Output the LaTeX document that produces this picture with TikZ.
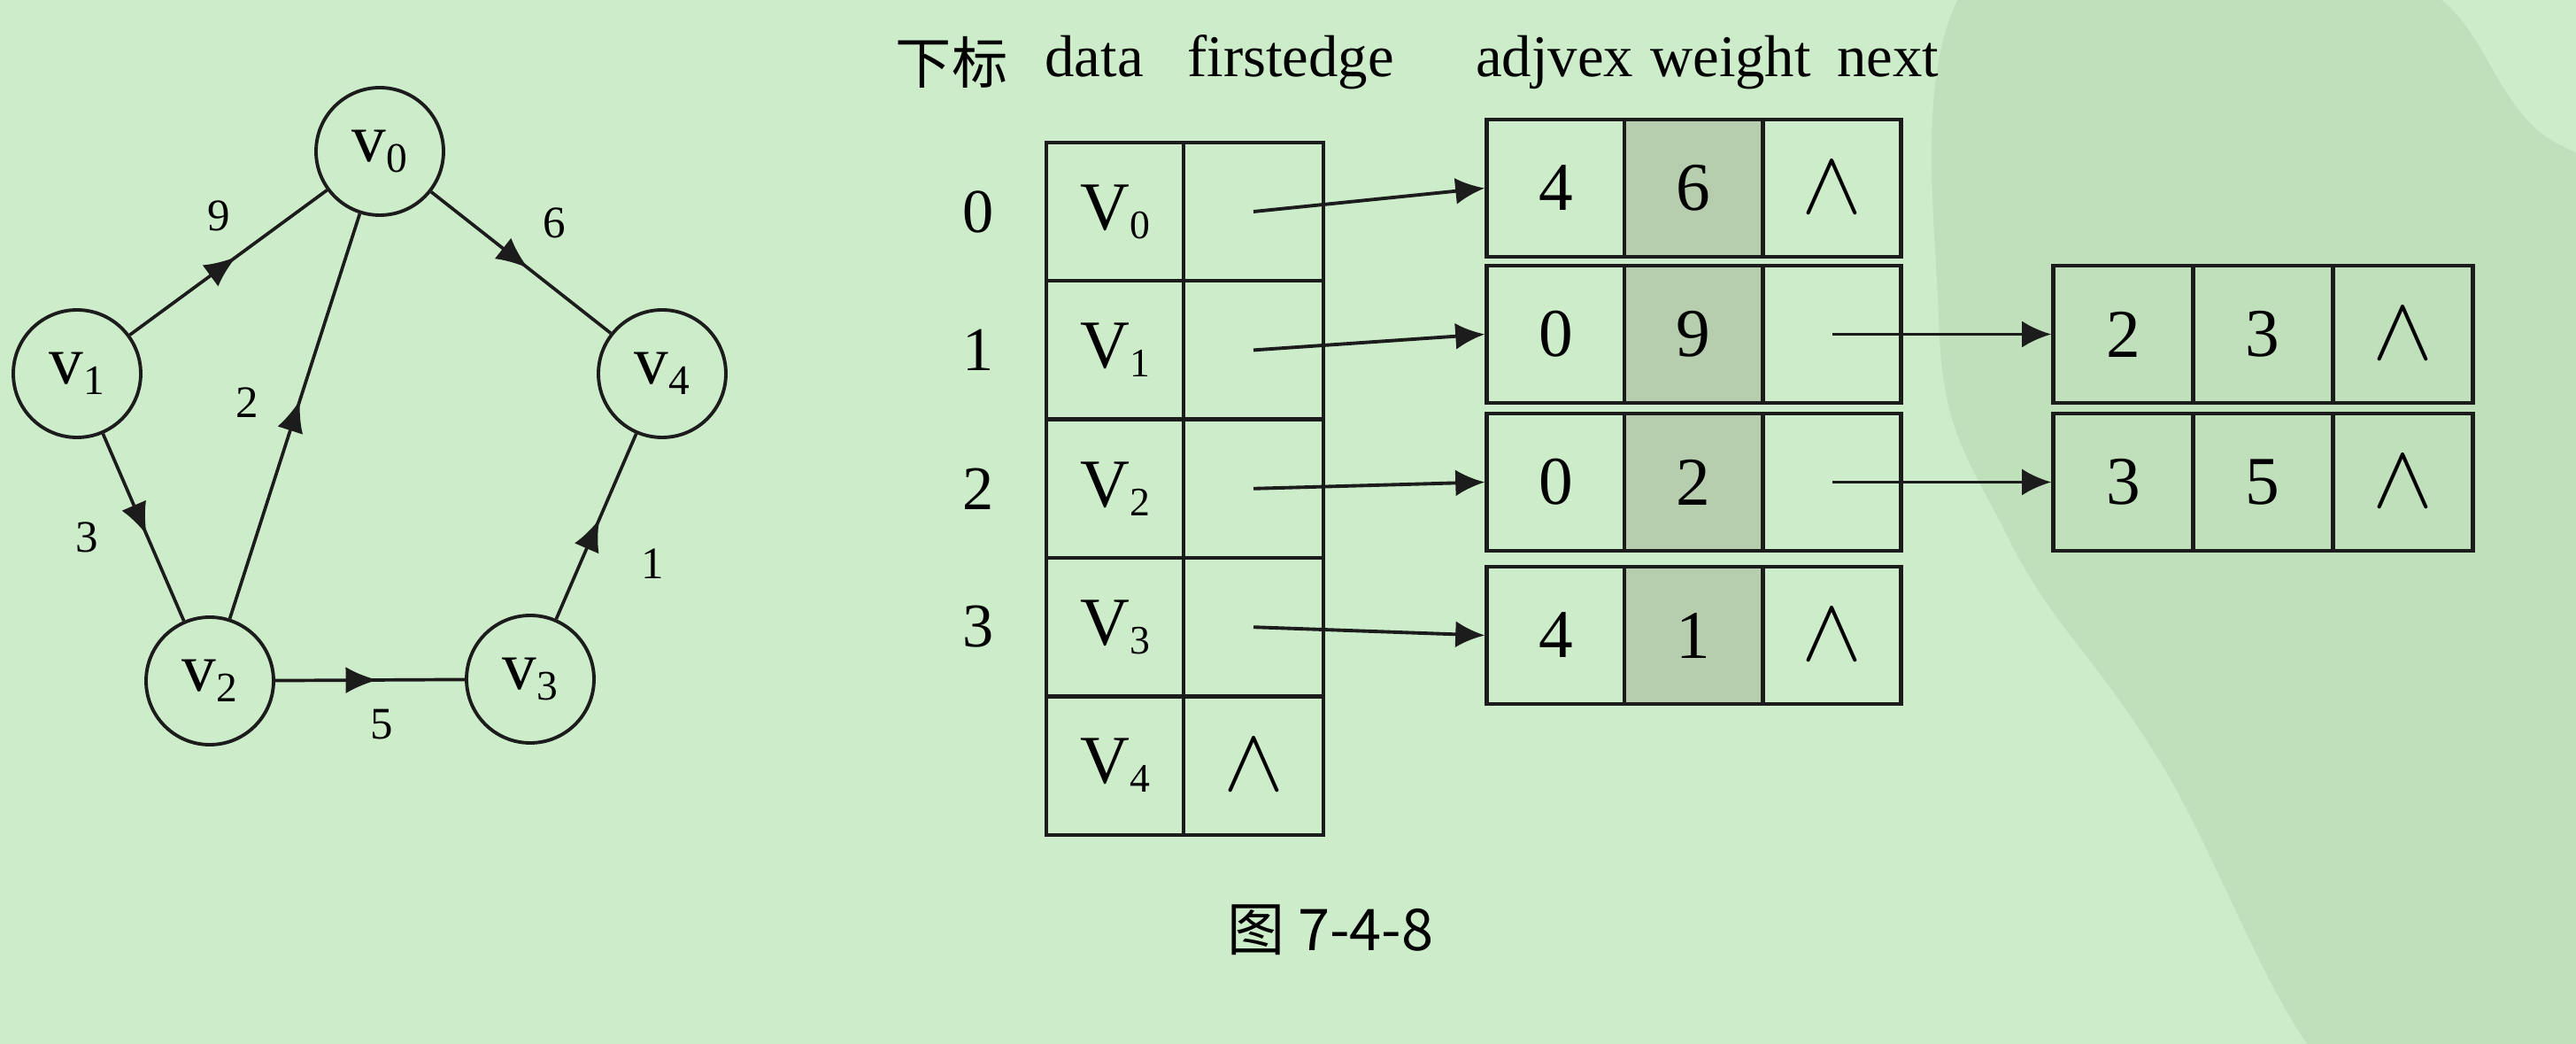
\documentclass[tikz,border=0pt]{standalone}
\usepackage{graphicx}
\usepackage{fontspec}
\setmainfont{Liberation Serif}
\newfontfamily\cjk{Noto Sans CJK SC}
\usetikzlibrary{arrows.meta,decorations.markings}
\definecolor{bg}{RGB}{205,236,201}
\definecolor{seal}{RGB}{192,223,187}
\definecolor{shade}{RGB}{182,206,174}
\definecolor{ink}{RGB}{28,28,28}
\newcommand{\vtx}[2]{#1\raisebox{-3.4pt}{\fontsize{13.5}{13.5}\selectfont #2}}
\newcommand{\tV}[1]{V\raisebox{-2.8pt}{\fontsize{13}{13}\selectfont #1}}
\newcommand{\nul}{\scalebox{1.4}[1.4]{$\wedge$}}
\tikzset{
  vert/.style={circle, draw=ink, line width=1.1pt, minimum size=1.44cm, inner sep=0pt, font=\fontsize{22}{22}\selectfont},
  wlab/.style={font=\fontsize{14.5}{14.5}\selectfont, inner sep=0pt},
  gedge/.style={draw=ink, line width=1.05pt, postaction={decorate},
    decoration={markings, mark=at position 0.54 with {\arrow{Latex[length=3.6mm,width=3mm]}}}},
  cell/.style={draw=ink, line width=1.3pt, minimum height=1.55cm, minimum width=1.56cm, inner sep=0pt, font=\fontsize{22}{22}\selectfont},
  tcell/.style={cell, minimum height=1.564cm},
  wcell/.style={cell, fill=shade},
  ptr/.style={draw=ink, line width=1.1pt, -{Latex[length=3.3mm,width=3mm]}},
  hdr/.style={font=\fontsize{19}{19}\selectfont, anchor=base, inner sep=0pt},
  idx/.style={font=\fontsize{20}{20}\selectfont, inner sep=0pt}
}
\begin{document}
\begin{tikzpicture}
\path[use as bounding box, fill=bg] (0,0) rectangle (29.1,-11.79);

% faint seal in the background
\begin{scope}
\clip (0,0) rectangle (29.1,-11.79);
\fill[seal] plot[smooth cycle, tension=0.7] coordinates {(22.5,0.5) (26.8,0.4) (28.5,-1.3) (29.6,-3.0) (29.6,-9.8) (28.6,-12.3) (26.5,-12.3) (24.4,-8.6) (22.7,-6.1) (21.9,-3.6)};
\end{scope}

% ---------- graph ----------
\node[vert] (v0) at (4.29,-1.71) {\vtx{v}{0}};
\node[vert] (v1) at (0.87,-4.22) {\vtx{v}{1}};
\node[vert] (v4) at (7.48,-4.22) {\vtx{v}{4}};
\node[vert] (v2) at (2.37,-7.69) {\vtx{v}{2}};
\node[vert] (v3) at (5.99,-7.67) {\vtx{v}{3}};

\draw[gedge] (v1) -- (v0);
\draw[gedge] (v0) -- (v4);
\draw[gedge] (v2) -- (v0);
\draw[gedge] (v1) -- (v2);
\draw[gedge] (v2) -- (v3);
\draw[gedge] (v3) -- (v4);

\node[wlab] (l9) at (2.47,-2.44) {9};
\node[wlab] (l6) at (6.26,-2.52) {6};
\node[wlab] (l2) at (2.79,-4.55) {2};
\node[wlab] (l3) at (0.98,-6.07) {3};
\node[wlab] (l5) at (4.31,-8.18) {5};
\node[wlab] (l1) at (7.37,-6.37) {1};

% ---------- headers ----------
\node[font=\cjk\fontsize{18}{18}\selectfont, inner sep=0pt] (hx) at (10.75,-0.70) {下标};
\node[hdr] (hdata) at (12.36,-0.87) {data};
\node[hdr] (hfirst) at (14.58,-0.87) {firstedge};
\node[hdr] (hadj) at (17.56,-0.87) {adjvex};
\node[hdr] (hw) at (19.55,-0.87) {weight};
\node[hdr] (hn) at (21.33,-0.87) {next};

% ---------- index ----------
\node[idx] (i0) at (11.05,-2.39) {0};
\node[idx] (i1) at (11.05,-3.95) {1};
\node[idx] (i2) at (11.05,-5.52) {2};
\node[idx] (i3) at (11.05,-7.08) {3};

% ---------- vertex table ----------
\node[tcell, minimum width=1.55cm] (t0d) at (12.595,-2.39) {\tV{0}};
\node[tcell, minimum width=1.58cm] (t0f) at (14.16,-2.39) {};
\node[tcell, minimum width=1.55cm] (t1d) at (12.595,-3.954) {\tV{1}};
\node[tcell, minimum width=1.58cm] (t1f) at (14.16,-3.954) {};
\node[tcell, minimum width=1.55cm] (t2d) at (12.595,-5.518) {\tV{2}};
\node[tcell, minimum width=1.58cm] (t2f) at (14.16,-5.518) {};
\node[tcell, minimum width=1.55cm] (t3d) at (12.595,-7.082) {\tV{3}};
\node[tcell, minimum width=1.58cm] (t3f) at (14.16,-7.082) {};
\node[tcell, minimum width=1.55cm] (t4d) at (12.595,-8.646) {\tV{4}};
\node[tcell, minimum width=1.58cm] (t4f) at (14.16,-8.646) {\nul};

% ---------- edge nodes ----------
\node[cell]  (e0a) at (17.575,-2.125) {4};
\node[wcell] (e0w) at (19.13,-2.125) {6};
\node[cell]  (e0n) at (20.695,-2.125) {\nul};

\node[cell]  (e1a) at (17.575,-3.775) {0};
\node[wcell] (e1w) at (19.13,-3.775) {9};
\node[cell]  (e1n) at (20.695,-3.775) {};

\node[cell]  (e2a) at (17.575,-5.445) {0};
\node[wcell] (e2w) at (19.13,-5.445) {2};
\node[cell]  (e2n) at (20.695,-5.445) {};

\node[cell]  (e3a) at (17.575,-7.175) {4};
\node[wcell] (e3w) at (19.13,-7.175) {1};
\node[cell]  (e3n) at (20.695,-7.175) {\nul};

\node[cell, minimum width=1.58cm] (r1a) at (23.985,-3.775) {2};
\node[cell, minimum width=1.58cm] (r1w) at (25.56,-3.775) {3};
\node[cell, minimum width=1.58cm] (r1n) at (27.145,-3.775) {\nul};

\node[cell, minimum width=1.58cm] (r2a) at (23.985,-5.445) {3};
\node[cell, minimum width=1.58cm] (r2w) at (25.56,-5.445) {5};
\node[cell, minimum width=1.58cm] (r2n) at (27.145,-5.445) {\nul};

% ---------- pointers ----------
\draw[ptr] (t0f.center) -- (e0a.west);
\draw[ptr] (t1f.center) -- (e1a.west);
\draw[ptr] (t2f.center) -- (e2a.west);
\draw[ptr] (t3f.center) -- (e3a.west);
\draw[ptr] (e1n.center) -- (r1a.west);
\draw[ptr] (e2n.center) -- (r2a.west);

% ---------- caption ----------
\node[font=\cjk\fontsize{18.5}{18.5}\selectfont, inner sep=0pt] (cap) at (15.03,-10.50) {图 7-4-8};
\end{tikzpicture}
\end{document}
